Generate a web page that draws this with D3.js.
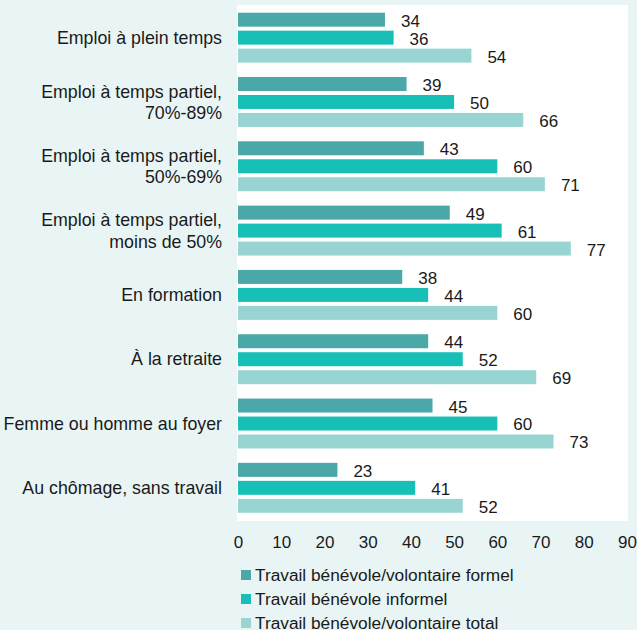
<!DOCTYPE html>
<html>
<head>
<meta charset="utf-8">
<script src="https://cdn.jsdelivr.net/npm/d3@7"></script>
<style>
  body { margin: 0; background: #e9f5f5; }
  text { font-family: Arial, "Liberation Sans", sans-serif; fill: #1a1a1a; }
</style>
</head>
<body>
<div id="chart"></div>
<script>
// categories (multi-line labels split by \n)
const categories = [
    "Emploi à plein temps",
    "Emploi à temps partiel,\n70%-89%",
    "Emploi à temps partiel,\n50%-69%",
    "Emploi à temps partiel,\nmoins de 50%",
    "En formation",
    "À la retraite",
    "Femme ou homme au foyer",
    "Au chômage, sans travail"
];
const seriesNames = [
    "Travail bénévole/volontaire formel",
    "Travail bénévole informel",
    "Travail bénévole/volontaire total"
];
const formel = [34, 39, 43, 49, 38, 44, 45, 23];
const informel = [36, 50, 60, 61, 44, 52, 60, 41];
const total = [54, 66, 71, 77, 60, 69, 73, 52];
const xTicks = [0, 10, 20, 30, 40, 50, 60, 70, 80, 90];
const colors = ["#4aa8a8", "#17bfb6", "#98d5d2"];

const width = 637, height = 630;
const plot = {left: 237, right: 628, top: 5, bottom: 520};

const svg = d3.select("#chart")
    .append("svg")
    .attr("width", width)
    .attr("height", height);

svg.append("rect")
    .attr("width", width)
    .attr("height", height)
    .attr("fill", "#e9f5f5");

// white plot area
svg.append("rect")
    .attr("x", plot.left)
    .attr("y", plot.top)
    .attr("width", plot.right - plot.left)
    .attr("height", plot.bottom + 1 - plot.top)
    .attr("fill", "#ffffff");

const x = d3.scaleLinear()
    .domain([0, 90])
    .range([238, 627]);

const y = d3.scaleBand()
    .domain(categories)
    .range([plot.top + 0.5, plot.bottom]);

const ySub = d3.scaleBand()
    .domain(seriesNames)
    .range([0, y.bandwidth()])
    .paddingInner(0.222)
    .paddingOuter(0.4);

const data = categories.map((c, i) => ({
    cat: c,
    values: [formel[i], informel[i], total[i]].map((v, j) => ({key: seriesNames[j], value: v, color: colors[j]}))
}));

const groups = svg.append("g")
    .selectAll("g")
    .data(data)
    .join("g")
    .attr("transform", d => `translate(0,${y(d.cat)})`);

groups.selectAll("rect")
    .data(d => d.values)
    .join("rect")
    .attr("x", x(0))
    .attr("y", d => ySub(d.key))
    .attr("width", d => x(d.value) - x(0))
    .attr("height", ySub.bandwidth())
    .attr("fill", d => d.color);

groups.selectAll("text.val")
    .data(d => d.values)
    .join("text")
    .attr("class", "val")
    .attr("x", d => x(d.value) + 16)
    .attr("y", d => ySub(d.key) + ySub.bandwidth() / 2 + 1)
    .attr("dy", "0.35em")
    .attr("font-size", "17px")
    .text(d => d.value);

// category labels
const catLabels = svg.append("g")
    .selectAll("text")
    .data(categories)
    .join("text")
    .attr("x", 222)
    .attr("text-anchor", "end")
    .attr("font-size", "17.8px")
    .attr("y", d => y(d) + y.bandwidth() / 2);

catLabels.each(function (d) {
    const lines = d.split("\n");
    const t = d3.select(this);
    lines.forEach((line, k) => {
        t.append("tspan")
            .attr("x", 222)
            .attr("dy", k === 0 ? `${0.35 - (lines.length - 1) * 0.6}em` : "1.2em")
            .text(line);
    });
});

// x axis (labels only)
const xAxis = svg.append("g")
    .attr("transform", `translate(0,${plot.bottom})`)
    .call(d3.axisBottom(x).tickValues(xTicks).tickSize(0).tickPadding(16));
xAxis.select(".domain").remove();
xAxis.selectAll("text")
    .attr("font-size", "17px")
    .attr("font-family", "Arial, 'Liberation Sans', sans-serif")
    .attr("fill", "#1a1a1a");

// legend
const legend = svg.append("g")
    .selectAll("g")
    .data(seriesNames)
    .join("g")
    .attr("transform", (d, i) => `translate(241,${575 + i * 24})`);

legend.append("rect")
    .attr("x", 0)
    .attr("y", -5)
    .attr("width", 10)
    .attr("height", 10)
    .attr("fill", (d, i) => colors[i]);

legend.append("text")
    .attr("x", 14)
    .attr("dy", "0.35em")
    .attr("font-size", "17.3px")
    .text(d => d);
</script>
</body>
</html>
